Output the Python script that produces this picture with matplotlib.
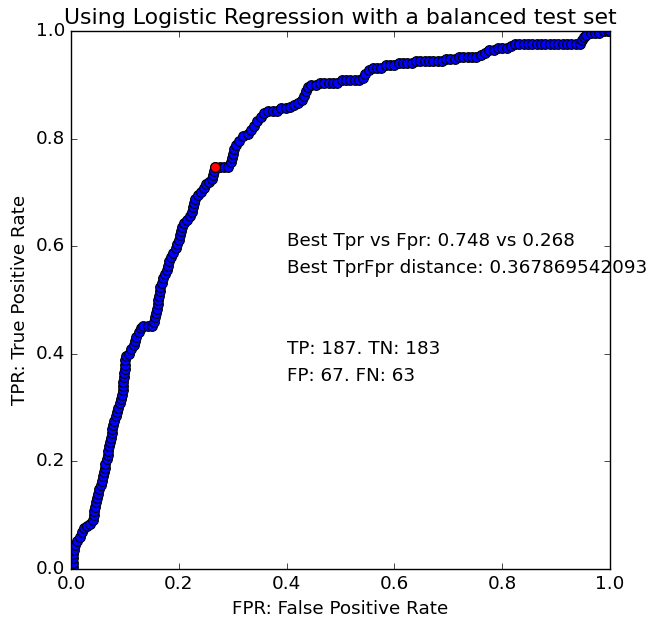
import matplotlib
matplotlib.use('Agg')
import matplotlib.pyplot as plt

# ROC points (false positive rate, true positive rate)
fpr = [0.004, 0.004, 0.004, 0.004, 0.006, 0.008, 0.012, 0.016, 0.02, 0.024,
       0.03, 0.036, 0.04, 0.042, 0.042, 0.044, 0.046, 0.048, 0.05, 0.052,
       0.056, 0.058, 0.06, 0.062, 0.064, 0.064, 0.066, 0.068, 0.068, 0.07,
       0.072, 0.074, 0.076, 0.076, 0.078,
       0.08, 0.084, 0.086, 0.088, 0.09, 0.092, 0.094, 0.096, 0.096, 0.096,
       0.098, 0.098, 0.1, 0.1, 0.1, 0.102, 0.108, 0.112, 0.116, 0.118,
       0.12, 0.126, 0.13, 0.134, 0.142, 0.15, 0.154, 0.156, 0.158, 0.16,
       0.162, 0.162, 0.164, 0.165, 0.166, 0.168, 0.17, 0.174, 0.178, 0.18,
       0.182, 0.186, 0.19, 0.194, 0.196, 0.2, 0.202, 0.204, 0.206, 0.21,
       0.216, 0.22, 0.224, 0.226, 0.228, 0.23, 0.236, 0.242, 0.246, 0.25,
       0.256, 0.262, 0.264, 0.266, 0.268,
       0.276, 0.284, 0.292, 0.296, 0.298, 0.3, 0.302, 0.306, 0.312, 0.32,
       0.328, 0.334, 0.34, 0.346, 0.352, 0.358, 0.366, 0.374, 0.382, 0.39,
       0.398, 0.406, 0.414, 0.422, 0.428, 0.432, 0.436, 0.44, 0.446, 0.454,
       0.462, 0.47, 0.478, 0.486, 0.494, 0.502, 0.51, 0.518, 0.526, 0.534,
       0.542, 0.546, 0.552, 0.56, 0.568, 0.576, 0.584, 0.592, 0.6, 0.608,
       0.616, 0.624, 0.632, 0.64, 0.648, 0.656, 0.664, 0.672, 0.68, 0.688,
       0.696, 0.704, 0.712, 0.72, 0.728, 0.736, 0.744, 0.752, 0.76, 0.768,
       0.776, 0.784, 0.792, 0.8, 0.808, 0.816, 0.824, 0.832, 0.84, 0.848,
       0.856, 0.864, 0.872, 0.88, 0.888, 0.896, 0.904, 0.912, 0.92, 0.928,
       0.936, 0.944, 0.948, 0.952, 0.956, 0.964, 0.972, 0.98, 0.988, 0.996,
       1.0]
tpr = [0.004, 0.012, 0.02, 0.028, 0.036, 0.044, 0.052, 0.06, 0.068, 0.076,
       0.08, 0.084, 0.092, 0.1, 0.108, 0.116, 0.124, 0.132, 0.14, 0.148,
       0.156, 0.164, 0.172, 0.18, 0.188, 0.196, 0.204, 0.212, 0.22, 0.228,
       0.236, 0.244, 0.252, 0.26, 0.268,
       0.276, 0.284, 0.292, 0.3, 0.308, 0.316, 0.324, 0.332, 0.34, 0.348,
       0.356, 0.364, 0.372, 0.38, 0.388, 0.396, 0.4, 0.408, 0.416, 0.424,
       0.432, 0.44, 0.448, 0.452, 0.452, 0.452, 0.46, 0.468, 0.476, 0.484,
       0.492, 0.5, 0.508, 0.516, 0.524, 0.532, 0.54, 0.548, 0.556, 0.564,
       0.572, 0.58, 0.588, 0.596, 0.604, 0.612, 0.62, 0.628, 0.636, 0.644,
       0.648, 0.656, 0.664, 0.672, 0.68, 0.688, 0.696, 0.7, 0.708, 0.716,
       0.72, 0.724, 0.732, 0.74, 0.748,
       0.748, 0.748, 0.748, 0.756, 0.764, 0.772, 0.78, 0.788, 0.796, 0.804,
       0.808, 0.816, 0.824, 0.832, 0.84, 0.848, 0.852, 0.852, 0.852, 0.856,
       0.856, 0.858, 0.862, 0.866, 0.872, 0.88, 0.888, 0.896, 0.9, 0.9,
       0.904, 0.904, 0.904, 0.904, 0.904, 0.908, 0.908, 0.908, 0.908, 0.908,
       0.912, 0.92, 0.928, 0.932, 0.932, 0.932, 0.936, 0.936, 0.936, 0.94,
       0.94, 0.94, 0.94, 0.944, 0.944, 0.944, 0.944, 0.944, 0.944, 0.944,
       0.948, 0.948, 0.948, 0.952, 0.952, 0.952, 0.952, 0.952, 0.956, 0.96,
       0.964, 0.964, 0.968, 0.968, 0.968, 0.972, 0.976, 0.976, 0.976, 0.976,
       0.976, 0.976, 0.976, 0.976, 0.976, 0.976, 0.976, 0.976, 0.976, 0.976,
       0.976, 0.976, 0.984, 0.988, 0.992, 0.996, 0.996, 0.996, 1.0, 1.0,
       1.0]

best_fpr = 0.268
best_tpr = 0.748
best_dist = "0.367869542093"
tp, tn, fp, fn = 187, 183, 67, 63

plt.style.use('classic')
plt.rcParams['font.size'] = 13.2
plt.rcParams['xtick.labelsize'] = 13.2
plt.rcParams['ytick.labelsize'] = 13.2
plt.rcParams['axes.labelsize'] = 13.2
plt.rcParams['axes.titlesize'] = 15.8

fig = plt.figure(figsize=(6.47, 6.22), dpi=100, facecolor='white')
ax = fig.add_axes([71/647, 53/622, 539/647, 538/622])

ax.plot(fpr, tpr, 'bo-', markersize=7, markeredgecolor='black', markeredgewidth=0.8)
ax.plot([best_fpr], [best_tpr], 'ro', markersize=7, markeredgecolor='black', markeredgewidth=0.8)

ax.text(0.4, 0.6, "Best Tpr vs Fpr: %.3f vs %.3f" % (best_tpr, best_fpr))
ax.text(0.4, 0.55, "Best TprFpr distance: " + best_dist)
ax.text(0.4, 0.4, "TP: %d. TN: %d" % (tp, tn))
ax.text(0.4, 0.35, "FP: %d. FN: %d" % (fp, fn))

ax.set_xlim(0, 1)
ax.set_ylim(0, 1)
ax.set_title("Using Logistic Regression with a balanced test set")
ax.set_xlabel("FPR: False Positive Rate")
ax.set_ylabel("TPR: True Positive Rate")

fig.savefig("out.png", dpi=100, facecolor='white')
